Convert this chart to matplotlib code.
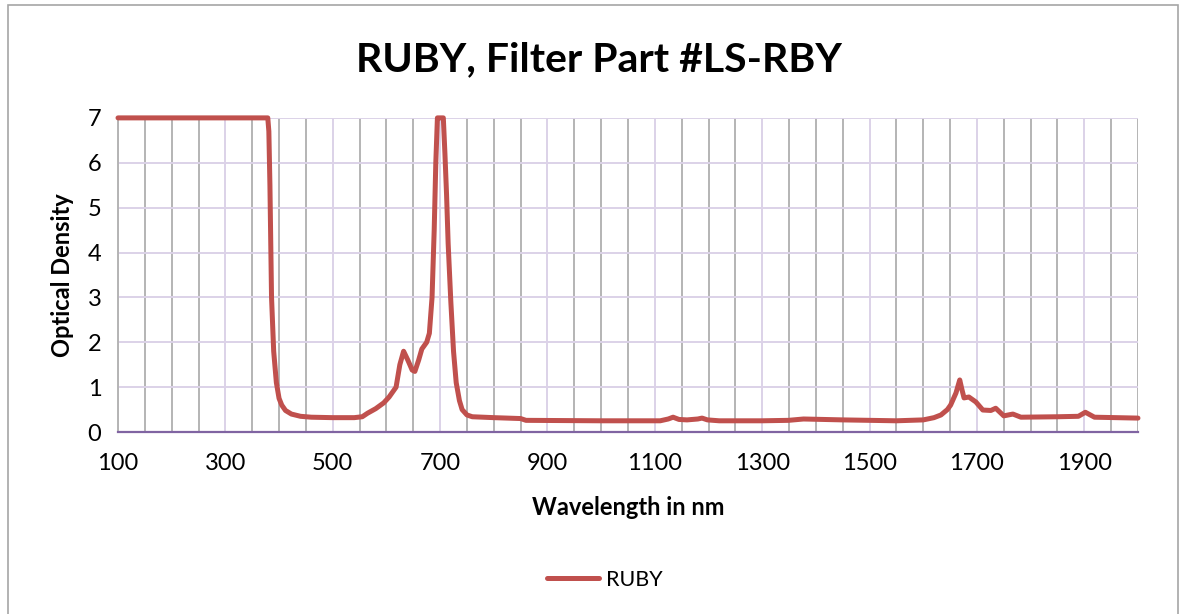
import matplotlib
matplotlib.use("Agg")
import matplotlib.pyplot as plt
from matplotlib.patches import Rectangle
from matplotlib.ticker import MultipleLocator

# data
wavelength = [100, 379, 381, 383, 386, 390, 395, 400, 405, 412, 423, 440, 460, 500, 540,
              555, 565, 580, 595, 605, 618, 625, 632, 640, 648, 653, 660, 666, 675,
              680, 685, 689, 692, 695, 698, 702, 706, 709, 712, 715, 720, 725, 730,
              736, 741, 750, 760, 800, 850, 860, 1000, 1110, 1125, 1134, 1145, 1160,
              1180, 1188, 1198, 1220, 1300, 1349, 1377, 1450, 1550, 1600, 1620, 1633,
              1645, 1651, 1661, 1668, 1672, 1676, 1685, 1698, 1711, 1726, 1735, 1750,
              1767, 1782, 1850, 1889, 1902, 1919, 2000]
od = [7, 7, 6.7, 5.5, 3.0, 1.8, 1.1, 0.75, 0.6, 0.48, 0.4, 0.35, 0.33, 0.32, 0.32,
      0.34, 0.42, 0.52, 0.65, 0.78, 1.0, 1.5, 1.8, 1.6, 1.38, 1.35, 1.6, 1.85, 2.0,
      2.2, 3.0, 4.5, 6.0, 7.0, 7.0, 7.0, 7.0, 6.2, 5.3, 4.2, 2.9, 1.8, 1.1,
      0.7, 0.5, 0.38, 0.34, 0.32, 0.3, 0.26, 0.25, 0.25, 0.29, 0.33, 0.28, 0.27,
      0.29, 0.31, 0.27, 0.25, 0.25, 0.26, 0.29, 0.27, 0.25, 0.27, 0.32, 0.38,
      0.5, 0.6, 0.87, 1.16, 0.95, 0.76, 0.78, 0.67, 0.49, 0.48, 0.53, 0.36,
      0.40, 0.33, 0.34, 0.35, 0.44, 0.33, 0.31]

plt.rcParams['font.family'] = ['Lato', 'DejaVu Sans']

fig = plt.figure(figsize=(11.86, 6.14), dpi=100)
ax = fig.add_axes([0.0995, 0.2964, 0.86, 0.5116])

ax.plot(wavelength, od, color='#C0504D', lw=3.6, label='RUBY', clip_on=False, zorder=5,
        solid_capstyle='round', solid_joinstyle='round')

ax.set_xlim(100, 2000)
ax.set_ylim(0, 7)
ax.xaxis.set_minor_locator(MultipleLocator(50))
ax.set_xticks(range(100, 2000, 200))
ax.yaxis.set_major_locator(MultipleLocator(1))

# grid: gray minor verticals, lavender major lines
ax.grid(which='minor', axis='x', color='#B4B4B4', lw=1.4)
ax.grid(which='major', axis='x', color='#DCD2E8', lw=1.4)
ax.grid(which='major', axis='y', color='#DCD2E8', lw=1.4)
ax.set_axisbelow(True)

for s in ['top', 'right']:
    ax.spines[s].set_visible(False)
ax.spines['left'].set_color('#B4B4B4')
ax.spines['left'].set_linewidth(1.4)
ax.spines['bottom'].set_color('#8064A2')
ax.spines['bottom'].set_linewidth(1.6)

ax.tick_params(which='both', length=0, labelsize=17)
ax.tick_params(axis='x', pad=15)
ax.tick_params(axis='y', pad=12)

ax.set_xlabel('Wavelength in nm', fontsize=17, fontweight='bold', labelpad=16)
ax.set_ylabel('Optical Density', fontsize=17, fontweight='bold', labelpad=10)
fig.suptitle('RUBY, Filter Part #LS-RBY', fontsize=29.5, fontweight='bold', y=0.933, x=0.505)

fig.legend(loc='center', bbox_to_anchor=(0.51, 0.056), frameon=False, fontsize=15.5,
           handlelength=2.4, handletextpad=0.3)

fig.patches.append(Rectangle((0.0067, -0.1), 0.9866, 1.092, transform=fig.transFigure,
                             fill=False, edgecolor='#A6A6A6', lw=1.2))

fig.savefig('out.png', dpi=100)
